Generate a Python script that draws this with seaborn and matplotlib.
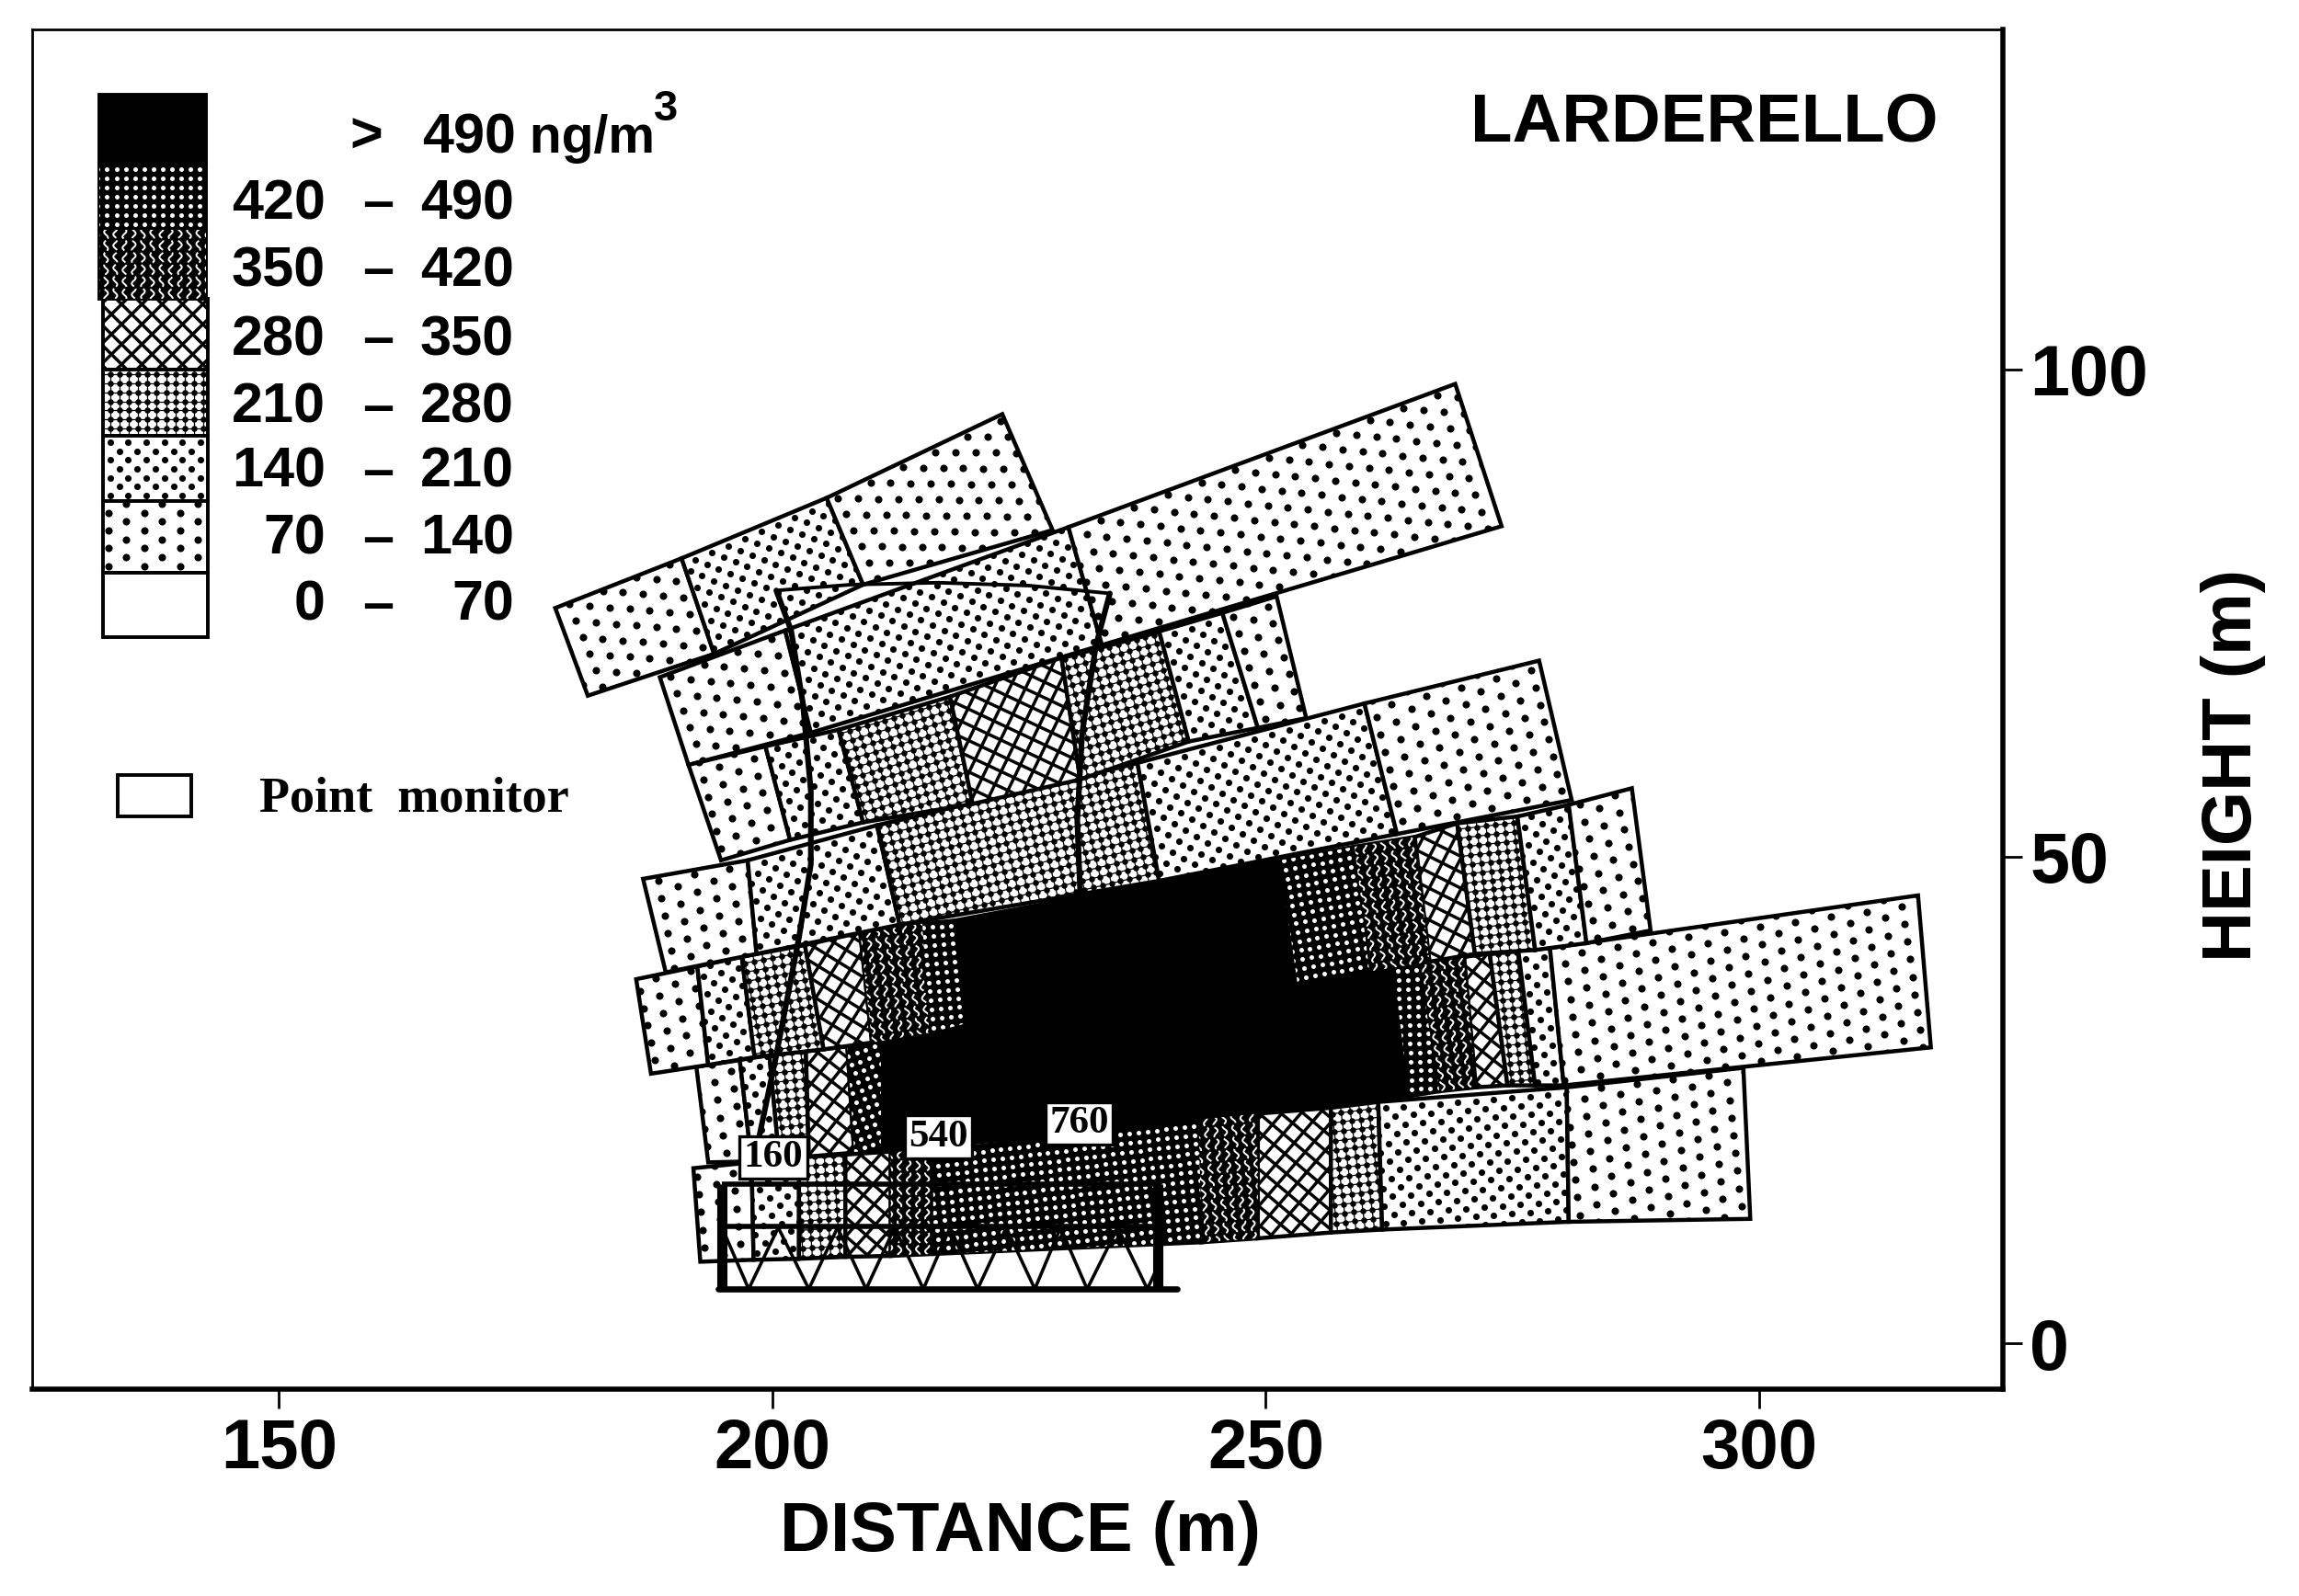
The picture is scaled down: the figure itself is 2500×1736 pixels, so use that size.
import numpy as np
import matplotlib
matplotlib.use("Agg")
import matplotlib.pyplot as plt
import seaborn as sns
from matplotlib.collections import LineCollection
from matplotlib.patches import Polygon

# --- DATA: concentration cells, one band of the plume per row (metres) ---
# each row: top edge and bottom edge, cell i lies between point i and i+1
ROW_A_TOP_X = [178.0, 190.8, 205.5, 223.3]
ROW_A_TOP_Y = [75.5, 80.6, 86.8, 95.4]
ROW_A_BOT_X = [181.3, 194.1, 209.2, 228.4]
ROW_A_BOT_Y = [66.5, 70.8, 77.9, 83.5]
ROW_A_LEVELS = [1, 2, 1]

ROW_B_TOP_X = [188.6, 201.3, 230.0, 269.2]
ROW_B_TOP_Y = [68.4, 73.2, 83.8, 98.5]
ROW_B_BOT_X = [191.5, 203.9, 233.4, 273.9]
ROW_B_BOT_Y = [59.4, 62.7, 71.7, 83.9]
ROW_B_LEVELS = [1, 2, 1]

ROW_C_TOP_X = [191.5, 199.3, 206.7, 218.0, 229.3, 239.2, 245.6, 251.1]
ROW_C_TOP_Y = [59.4, 61.3, 63.0, 66.4, 70.4, 73.1, 75.0, 76.7]
ROW_C_BOT_X = [194.8, 201.8, 209.2, 220.3, 231.2, 242.2, 249.2, 254.1]
ROW_C_BOT_Y = [49.6, 51.7, 53.5, 55.4, 57.9, 61.8, 63.2, 64.2]
ROW_C_LEVELS = [1, 2, 3, 4, 3, 2, 1]

ROW_D_TOP_X = [186.9, 197.5, 210.6, 237.0, 260.0, 277.7]
ROW_D_TOP_Y = [47.7, 49.6, 53.2, 59.6, 65.7, 70.1]
ROW_D_BOT_X = [189.2, 198.4, 212.9, 239.2, 263.3, 281.0]
ROW_D_BOT_Y = [38.1, 40.0, 43.0, 47.5, 52.3, 55.8]
ROW_D_LEVELS = [1, 2, 3, 2, 1]

ROW_E_TOP_X = [186.2, 192.4, 196.9, 203.3, 208.9, 215.2, 218.4, 251.4, 259.0, 265.1, 269.4, 275.5, 280.7, 287.1]
ROW_E_TOP_Y = [37.4, 38.7, 39.7, 40.9, 42.2, 43.1, 43.4, 49.6, 51.0, 52.0, 53.4, 54.1, 55.3, 57.0]
ROW_E_BOT_X = [187.7, 193.5, 198.2, 205.2, 210.1, 215.9, 219.8, 253.2, 260.5, 266.6, 271.2, 277.3, 282.5, 289.0]
ROW_E_BOT_Y = [27.7, 28.6, 29.4, 30.2, 30.9, 31.9, 32.9, 37.1, 38.2, 39.2, 40.0, 40.4, 41.1, 42.4]
ROW_E_LEVELS = [1, 2, 3, 4, 5, 6, 7, 6, 5, 4, 3, 2, 1]

ROW_F_TOP_X = [192.3, 196.7, 199.7, 203.4, 207.6, 211.0, 262.9, 265.5, 270.1, 272.7, 275.6, 278.8, 316.1]
ROW_F_TOP_Y = [28.4, 29.1, 29.6, 30.0, 30.5, 31.8, 38.9, 39.0, 39.7, 40.0, 40.3, 40.6, 46.0]
ROW_F_BOT_X = [193.5, 197.9, 200.7, 203.7, 208.3, 211.0, 264.5, 267.6, 271.3, 274.5, 277.3, 280.2, 317.4]
ROW_F_BOT_Y = [18.6, 18.7, 19.0, 19.2, 19.6, 19.6, 25.4, 25.9, 26.3, 26.5, 26.5, 26.5, 30.4]
ROW_F_LEVELS = [1, 2, 3, 4, 6, 7, 6, 5, 4, 3, 2, 1]

ROW_G_TOP_X = [192.0, 197.9, 202.7, 207.4, 212.0, 216.3, 243.2, 249.2, 256.6, 261.4, 280.5, 298.4]
ROW_G_TOP_Y = [18.0, 18.6, 19.1, 19.4, 19.7, 19.7, 23.0, 23.6, 24.2, 24.8, 26.3, 28.3]
ROW_G_BOT_X = [192.7, 198.1, 202.7, 207.4, 212.0, 216.3, 243.5, 249.2, 256.6, 261.8, 280.7, 299.1]
ROW_G_BOT_Y = [8.4, 8.6, 8.7, 8.9, 9.0, 9.2, 10.4, 10.8, 11.4, 11.7, 12.5, 12.8]
ROW_G_LEVELS = [1, 2, 3, 4, 5, 6, 5, 4, 3, 2, 1]

# cooling tower outline
TOWER_LEFT_X = [200.4, 201.9, 203.1, 203.9, 203.9, 202.7, 200.4, 198.7]
TOWER_LEFT_Y = [77.3, 73.2, 65.7, 56.7, 49.2, 41.7, 29.6, 21.4]
TOWER_RIGHT_X = [234.2, 232.8, 231.4, 230.9, 231.2]
TOWER_RIGHT_Y = [77.0, 71.7, 62.7, 53.7, 46.2]
TOWER_TOP_X = [200.4, 208.0, 216.8, 226.0, 234.2]
TOWER_TOP_Y = [77.3, 77.9, 78.1, 77.8, 77.0]

# tower base
TRUSS_X = [194.9, 197.6, 200.6, 203.7, 206.6, 209.5, 212.4, 215.3, 218.0, 220.8, 223.7, 226.6, 229.2, 231.9, 235.0, 238.0, 239.1]
TRUSS_Y = [11.9, 5.6, 11.9, 5.6, 11.9, 5.6, 11.9, 5.6, 11.9, 5.6, 11.9, 5.6, 11.9, 5.6, 11.9, 5.6, 8.0]
BASE_LEGS_X = [194.9, 239.1]
BASE_BEAMS_Y = [16.4, 12.0]
BASE_LINE_X = [194.5, 241.0]
BASE_LINE_Y = 5.6

# point monitors
MONITOR_X = [200.1, 216.8, 231.1]
MONITOR_Y = [19.1, 21.2, 22.6]
MONITOR_VALUES = ["160", "540", "760"]

# legend
LEGEND_EDGES_Y = [128.2, 121.0, 114.3, 107.2, 100.0, 93.2, 86.5, 79.1, 72.5]
LEGEND_LEVELS = [7, 6, 5, 4, 3, 2, 1, 0]
LEGEND_LOW = ["", "420", "350", "280", "210", "140", "70", "0"]
LEGEND_HIGH = ["490", "490", "420", "350", "280", "210", "140", "70"]
LEGEND_TEXT_Y = [123.7, 116.9, 110.0, 102.9, 96.0, 89.4, 82.5, 75.7]

X_TICKS = [150, 200, 250, 300]
Y_TICKS = [0, 50, 100]

M = 0.0935  # one output pixel in metres, used for the fill textures


def stamp_dots(ax, patch, pts, size, color):
    sns.scatterplot(x=pts[0], y=pts[1], s=size, color=color, linewidth=0,
                    legend=False, ax=ax, zorder=patch.get_zorder() + 0.1)
    ax.collections[-1].set_clip_path(patch)


def stamp_lines(ax, patch, segs, color, width, style="solid"):
    lc = LineCollection(segs, colors=color, linewidths=width, linestyles=style,
                        zorder=patch.get_zorder() + 0.1)
    ax.add_collection(lc, autolim=False)
    lc.set_clip_path(patch)


def to_world(u, v, cx, cy, ang):
    return cx + u * np.cos(ang) - v * np.sin(ang), cy + u * np.sin(ang) + v * np.cos(ang)


def draw_cell(ax, xs, ys, level, zorder=2.0, edge=1.6):
    xs, ys = np.array(xs, dtype=float), np.array(ys, dtype=float)
    face = "black" if level >= 5 else "white"
    patch = Polygon(np.column_stack([xs, ys]), closed=True, facecolor=face,
                    edgecolor="black", linewidth=edge, zorder=zorder)
    ax.add_patch(patch)
    if level in (0, 7):
        return

    # texture follows the tilt of the cell
    ang = np.arctan2(ys[1] - ys[0], xs[1] - xs[0])
    cx, cy = xs.mean(), ys.mean()
    reach = np.hypot(xs - cx, ys - cy).max() + 2
    cols = lambda step: np.arange(-reach, reach + step, step)

    if level in (1, 2):
        du = (19.5 if level == 1 else 9.8) * M
        dv = 19.5 * M
        us, vs = [], []
        for i, u in enumerate(cols(du)):
            v = cols(dv) + (dv / 2 if i % 2 else 0)
            us.append(np.full_like(v, u))
            vs.append(v)
        px, py = to_world(np.concatenate(us), np.concatenate(vs), cx, cy, ang)
        stamp_dots(ax, patch, (px, py), 8.5 if level == 1 else 6.5, "black")
    elif level == 3:
        step = 10 * M
        grid = cols(step)
        segs = []
        for g in grid:
            a = to_world(np.array([g, g]), np.array([-reach, reach]), cx, cy, ang)
            b = to_world(np.array([-reach, reach]), np.array([g, g]), cx, cy, ang)
            segs.append(np.column_stack(a))
            segs.append(np.column_stack(b))
        stamp_lines(ax, patch, segs, "black", 0.45)
        uu, vv = np.meshgrid(grid, grid)
        stamp_dots(ax, patch, to_world(uu.ravel(), vv.ravel(), cx, cy, ang), 5.5, "black")
    elif level == 4:
        step = 22 * M
        segs = []
        for g in np.arange(-2 * reach, 2 * reach, step):
            a = to_world(np.array([g - reach, g + reach]), np.array([-reach, reach]), cx, cy, ang)
            b = to_world(np.array([g - reach, g + reach]), np.array([reach, -reach]), cx, cy, ang)
            segs.append(np.column_stack(a))
            segs.append(np.column_stack(b))
        stamp_lines(ax, patch, segs, "black", 1.25)
    elif level == 5:
        step = 10 * M
        v = np.linspace(-reach, reach, int(reach * 30))
        segs = []
        for i, g in enumerate(cols(step)):
            u = g + 0.2 * np.sin(v * 5.5 + i * 1.3)
            segs.append(np.column_stack(to_world(u, v, cx, cy, ang)))
        stamp_lines(ax, patch, segs, "white", 0.7, style=(0, (7, 1.5)))
    elif level == 6:
        grid = cols(10 * M)
        uu, vv = np.meshgrid(grid, grid)
        stamp_dots(ax, patch, to_world(uu.ravel(), vv.ravel(), cx, cy, ang), 3.2, "white")


def draw_row(ax, top_x, top_y, bot_x, bot_y, levels, zorder):
    for i, level in enumerate(levels):
        xs = [top_x[i], top_x[i + 1], bot_x[i + 1], bot_x[i]]
        ys = [top_y[i], top_y[i + 1], bot_y[i + 1], bot_y[i]]
        draw_cell(ax, xs, ys, level, zorder=zorder)


sns.set_theme(style="white")
plt.rcParams["font.family"] = ["Liberation Sans", "DejaVu Sans"]

fig = plt.figure(figsize=(12.5, 8.68), dpi=200)
ax = fig.add_axes([0.01403, 0.12948, 0.85717, 0.85215])
ax.set_xlim(125.0, 324.7)
ax.set_ylim(-4.7, 134.9)

# lower rows first, the black core gets trimmed by its neighbours
draw_row(ax, ROW_F_TOP_X, ROW_F_TOP_Y, ROW_F_BOT_X, ROW_F_BOT_Y, ROW_F_LEVELS, 2.0)
draw_row(ax, ROW_G_TOP_X, ROW_G_TOP_Y, ROW_G_BOT_X, ROW_G_BOT_Y, ROW_G_LEVELS, 2.2)
draw_row(ax, ROW_E_TOP_X, ROW_E_TOP_Y, ROW_E_BOT_X, ROW_E_BOT_Y, ROW_E_LEVELS, 2.4)
draw_row(ax, ROW_D_TOP_X, ROW_D_TOP_Y, ROW_D_BOT_X, ROW_D_BOT_Y, ROW_D_LEVELS, 2.6)
draw_row(ax, ROW_A_TOP_X, ROW_A_TOP_Y, ROW_A_BOT_X, ROW_A_BOT_Y, ROW_A_LEVELS, 2.7)
draw_row(ax, ROW_B_TOP_X, ROW_B_TOP_Y, ROW_B_BOT_X, ROW_B_BOT_Y, ROW_B_LEVELS, 2.8)
draw_row(ax, ROW_C_TOP_X, ROW_C_TOP_Y, ROW_C_BOT_X, ROW_C_BOT_Y, ROW_C_LEVELS, 3.0)

# tower
ax.plot(TOWER_LEFT_X, TOWER_LEFT_Y, color="black", lw=2.2, zorder=4)
ax.plot(TOWER_RIGHT_X, TOWER_RIGHT_Y, color="black", lw=2.2, zorder=4)
ax.plot(TOWER_TOP_X, TOWER_TOP_Y, color="black", lw=1.4, zorder=4)
ax.plot(TRUSS_X, TRUSS_Y, color="black", lw=1.3, zorder=4)
ax.vlines(BASE_LEGS_X, BASE_LINE_Y, BASE_BEAMS_Y[0], color="black", lw=4, zorder=4)
ax.hlines(BASE_BEAMS_Y, BASE_LEGS_X[0], BASE_LEGS_X[1], color="black", lw=2, zorder=4)
ax.plot(BASE_LINE_X, [BASE_LINE_Y, BASE_LINE_Y], color="black", lw=2.4, zorder=4)

# monitor values
for x, y, label in zip(MONITOR_X, MONITOR_Y, MONITOR_VALUES):
    ax.text(x, y, label, family="Liberation Serif", fontweight="bold", fontsize=15.5,
            color="black", ha="center", va="center", zorder=5,
            bbox=dict(boxstyle="square,pad=0.1", facecolor="white", edgecolor="black", linewidth=1.2))

# legend swatches and labels
for i, level in enumerate(LEGEND_LEVELS):
    top, bottom = LEGEND_EDGES_Y[i], LEGEND_EDGES_Y[i + 1]
    left, right = (131.8, 142.6) if i < 3 else (132.2, 142.8)
    draw_cell(ax, [left, right, right, left], [top, top, bottom, bottom], level, edge=1.4)
    y = LEGEND_TEXT_Y[i]
    if i == 0:
        ax.text(158.8, y, ">", ha="center", va="center", fontsize=22, fontweight="bold", color="black")
        ax.text(164.5, y, LEGEND_HIGH[i], ha="left", va="center", fontsize=22, fontweight="bold", color="black")
        ax.text(173.9, y, " ng/m", ha="left", va="center", fontsize=20.5, fontweight="bold", color="black")
        ax.text(188.0, y + 3.0, "3", ha="left", va="center", fontsize=17, fontweight="bold", color="black")
    else:
        ax.text(154.7, y, LEGEND_LOW[i], ha="right", va="center", fontsize=22, fontweight="bold", color="black")
        ax.text(160.0, y, "\u2013", ha="center", va="center", fontsize=22, fontweight="bold", color="black")
        ax.text(173.8, y, LEGEND_HIGH[i], ha="right", va="center", fontsize=22, fontweight="bold", color="black")

draw_cell(ax, [133.7, 141.1, 141.1, 133.7], [58.4, 58.4, 54.1, 54.1], 0, edge=1.4)
ax.text(148.0, 55.9, "Point  monitor", family="Liberation Serif", fontweight="bold", fontsize=19.5,
        ha="left", va="center", color="black")
ax.text(318.1, 125.3, "LARDERELLO", ha="right", va="center", fontsize=26.8, fontweight="bold", color="black")

# axes
ax.yaxis.tick_right()
ax.yaxis.set_label_position("right")
ax.set_xticks(X_TICKS)
ax.set_yticks(Y_TICKS)
ax.tick_params(axis="x", direction="out", length=7.5, width=1, pad=3.7, labelsize=27.4,
               bottom=True, colors="black")
ax.tick_params(axis="y", direction="out", length=7.5, width=1, pad=3, labelsize=27.8,
               right=True, left=False, colors="black")
for lab in ax.get_xticklabels() + ax.get_yticklabels():
    lab.set_fontweight("bold")
for name, width in (("top", 1.0), ("left", 1.0), ("right", 2.0), ("bottom", 2.0)):
    ax.spines[name].set_visible(True)
    ax.spines[name].set_color("black")
    ax.spines[name].set_linewidth(width)
    ax.spines[name].set_zorder(6)

ax.set_xlabel("DISTANCE (m)", fontsize=27.4, fontweight="bold", color="black", va="center")
ax.xaxis.set_label_coords(0.5015, -0.1056)
ax.set_ylabel("HEIGHT (m)", fontsize=27.4, fontweight="bold", color="black", rotation=90, va="center")
ax.yaxis.set_label_coords(1.117, 0.459)

fig.savefig("out.png", dpi=200)
